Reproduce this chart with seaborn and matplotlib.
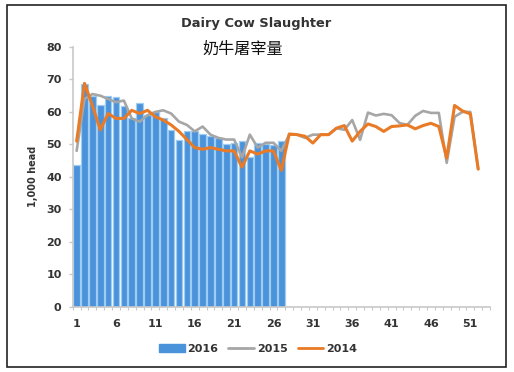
import matplotlib.pyplot as plt
import matplotlib.patches as mpatches
import numpy as np
import pandas as pd
import seaborn as sns

weeks = list(range(1, 54))
tick_labels = [str(w) if (w - 1) % 5 == 0 else "" for w in weeks]

slaughter_2016 = [43.5, 68.6, 65.0, 62.0, 65.0, 64.5, 61.8, 58.0, 62.6, 59.0, 60.0, 58.0, 54.5, 51.5,
                  54.0, 54.0, 53.2, 52.5, 52.0, 50.2, 50.5, 51.0, 46.0, 50.5, 50.0, 49.8, 51.0]
slaughter_2015 = [48.0, 64.0, 65.5, 65.0, 64.0, 63.0, 63.5, 58.0, 57.0, 59.0, 60.0, 60.5, 59.5, 57.0,
                  56.0, 54.0, 55.5, 53.0, 52.0, 51.5, 51.5, 46.0, 53.0, 49.0, 50.5, 50.5, 48.0, 53.0,
                  53.0, 52.0, 53.0, 53.0, 53.0, 55.0, 54.5, 57.5, 51.4, 59.8, 58.9, 59.4, 59.0, 56.6,
                  56.0, 58.8, 60.3, 59.7, 59.7, 44.3, 58.5, 60.0, 60.0, 42.4]
slaughter_2014 = [51.0, 68.8, 62.0, 54.5, 59.5, 58.0, 58.0, 60.5, 59.5, 60.5, 58.5, 57.5, 56.0, 54.0,
                  51.5, 49.0, 48.5, 49.0, 48.5, 48.0, 48.0, 43.0, 48.0, 47.0, 48.0, 48.0, 42.0, 53.2,
                  53.0, 52.5, 50.4, 53.0, 53.0, 55.0, 55.8, 51.0, 54.0, 56.3, 55.5, 54.0, 55.5, 55.7,
                  56.0, 54.8, 55.8, 56.5, 55.5, 45.8, 62.0, 60.3, 59.4, 42.4]

BLUE = "#4a92da"
GAP = "#9fcdf2"
GRAY = "#a6a6a6"
ORANGE = "#e97a26"
TEXT = "#333333"
AXIS = "#c8c8c8"

df_bars = pd.DataFrame({"week": weeks[:27], "head": slaughter_2016})
df_bars["pos"] = df_bars["week"] - 1
df_2015 = pd.DataFrame({"pos": np.arange(len(slaughter_2015)), "head": slaughter_2015})
df_2014 = pd.DataFrame({"pos": np.arange(len(slaughter_2014)), "head": slaughter_2014})

sns.set_theme(style="white")
plt.rcParams['font.family'] = ['DejaVu Sans', 'Noto Sans CJK SC']

fig = plt.figure(figsize=(5.14, 3.72), dpi=100, facecolor="white")
ax = fig.add_axes([72.7 / 514, 1 - 306.7 / 372, (490 - 72.7) / 514, (306.7 - 47) / 372])

# bars nearly touch, the pale edge gives the light stripe between them
sns.barplot(data=df_bars, x="pos", y="head", order=list(range(53)), color=BLUE, saturation=1,
            width=0.84, edgecolor=GAP, linewidth=0.9, ax=ax, legend=False)
sns.lineplot(data=df_2015, x="pos", y="head", color=GRAY, lw=1.9, ax=ax, legend=False, errorbar=None)
sns.lineplot(data=df_2014, x="pos", y="head", color=ORANGE, lw=2.2, ax=ax, legend=False, errorbar=None)

ax.set_xlim(-0.5, 52.5)
ax.set_ylim(0, 80)
ax.set_yticks(range(0, 81, 10))
ax.set_xticks(np.arange(-0.5, 53, 1), minor=True)
ax.set_xticks(np.arange(53))
ax.set_xticklabels(tick_labels)
ax.set_xlabel("")
ax.set_ylabel("1,000 head", fontsize=7, fontweight="bold", color=TEXT, labelpad=6)
ax.tick_params(axis="x", which="major", length=0, pad=9, labelsize=8, labelcolor=TEXT)
ax.tick_params(axis="x", which="minor", bottom=True, length=2.5, width=0.8, color=AXIS)
ax.tick_params(axis="y", left=True, length=3, width=1, color=AXIS, pad=5, labelsize=8, labelcolor=TEXT)
for lab in ax.get_xticklabels() + ax.get_yticklabels():
    lab.set_fontweight("bold")
sns.despine(ax=ax)
for side in ["left", "bottom"]:
    ax.spines[side].set_color(AXIS)
    ax.spines[side].set_linewidth(1.2)

handles = [mpatches.Patch(color=BLUE, label="2016"),
           plt.Line2D([], [], color=GRAY, lw=2, label="2015"),
           plt.Line2D([], [], color=ORANGE, lw=2, label="2014")]
fig.legend(handles=handles, loc="center", bbox_to_anchor=(258 / 514, 1 - 349 / 372), ncol=3, frameon=False,
           prop={"size": 8, "weight": "bold"}, labelcolor=TEXT, handlelength=2.3, handletextpad=0.25,
           columnspacing=0.9, borderpad=0)

fig.text(256 / 514, 1 - 24 / 372, "Dairy Cow Slaughter", ha="center", va="center", fontsize=9.4,
         fontweight="bold", color=TEXT)
fig.text(243 / 514, 1 - 49 / 372, "奶牛屠宰量", ha="center", va="center", fontsize=11.6, color="#111111",
         family=['Noto Sans CJK SC', 'DejaVu Sans'])

# outer frame of the screenshot
fig.add_artist(mpatches.Rectangle((7 / 514, 1 - 367 / 372), 499 / 514, 362 / 372, transform=fig.transFigure,
                                  fill=False, ec="#222222", lw=1.2))

fig.savefig("out.png", dpi=100)
plt.close(fig)
